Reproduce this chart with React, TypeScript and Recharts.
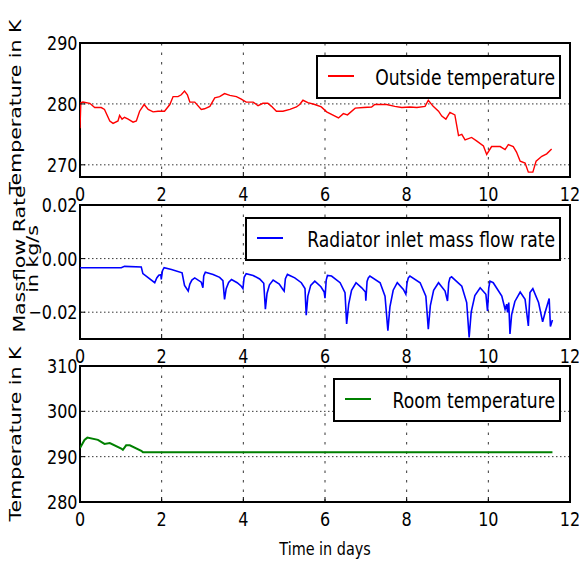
import React from 'react';
import { LineChart, Line, XAxis, YAxis, CartesianGrid, ReferenceArea, Legend, Label } from 'recharts';

const xTicks = [0, 2, 4, 6, 8, 10, 12];

const outsideDays = [0, 0.02, 0.07, 0.24, 0.36, 0.52, 0.6, 0.73, 0.81, 0.93, 0.97, 1.03, 1.09, 1.18, 1.3, 1.38, 1.46, 1.57, 1.67, 1.79, 1.91, 2.07, 2.2, 2.28, 2.4, 2.48, 2.56, 2.63, 2.69, 2.81, 2.97, 3.05, 3.18, 3.3, 3.42, 3.54, 3.67, 3.83, 3.95, 4.07, 4.24, 4.36, 4.48, 4.6, 4.69, 4.81, 4.97, 5.14, 5.3, 5.38, 5.46, 5.58, 5.75, 5.91, 6.04, 6.33, 6.45, 6.55, 6.74, 6.94, 7.14, 7.22, 7.51, 7.71, 7.88, 8.08, 8.25, 8.45, 8.53, 8.65, 8.78, 8.86, 8.96, 9.06, 9.18, 9.27, 9.35, 9.43, 9.59, 9.72, 9.88, 9.96, 10.08, 10.29, 10.41, 10.49, 10.61, 10.69, 10.78, 10.9, 10.98, 11.09, 11.17, 11.31, 11.43, 11.55];
const outsideTemp = [276.0, 280.2, 280.3, 280.1, 279.4, 279.4, 279.1, 277.2, 276.8, 277.2, 278.1, 277.5, 277.8, 277.5, 277.0, 277.2, 278.8, 279.9, 279.1, 278.7, 278.8, 278.8, 279.9, 281.2, 281.2, 281.5, 282.1, 281.5, 280.3, 280.3, 279.1, 279.2, 279.6, 281.0, 281.2, 281.7, 281.4, 281.2, 280.8, 280.3, 280.3, 279.7, 280.1, 280.1, 279.6, 278.8, 278.8, 279.1, 279.5, 279.9, 280.6, 280.2, 279.9, 279.5, 278.7, 277.7, 278.4, 278.2, 279.3, 279.4, 279.5, 279.9, 279.9, 279.6, 279.4, 279.5, 279.4, 279.6, 280.6, 279.6, 278.8, 278.0, 277.5, 278.6, 278.2, 274.8, 275.0, 274.1, 274.5, 273.9, 273.1, 271.7, 273.0, 273.0, 272.5, 273.3, 273.0, 272.1, 270.6, 270.3, 268.8, 268.8, 270.6, 271.4, 271.8, 272.6];

const flowDays = [0, 1.01, 1.09, 1.5, 1.54, 1.83, 1.88, 1.93, 1.98, 1.99, 2.02, 2.06, 2.24, 2.5, 2.56, 2.65, 2.69, 2.74, 2.81, 2.97, 3.01, 3.03, 3.07, 3.26, 3.42, 3.5, 3.54, 3.58, 3.64, 3.71, 3.85, 3.95, 3.99, 4.02, 4.07, 4.24, 4.4, 4.5, 4.54, 4.58, 4.64, 4.73, 4.88, 4.97, 5.0, 5.03, 5.08, 5.26, 5.42, 5.51, 5.54, 5.58, 5.65, 5.75, 5.9, 5.98, 6.0, 6.03, 6.06, 6.16, 6.37, 6.49, 6.53, 6.58, 6.65, 6.76, 6.9, 6.99, 7.0, 7.03, 7.06, 7.1, 7.35, 7.47, 7.54, 7.59, 7.67, 7.77, 7.92, 7.98, 8.01, 8.04, 8.08, 8.33, 8.47, 8.53, 8.58, 8.66, 8.78, 8.94, 9.0, 9.03, 9.06, 9.1, 9.35, 9.47, 9.53, 9.58, 9.67, 9.8, 9.94, 9.98, 10.01, 10.04, 10.12, 10.33, 10.41, 10.45, 10.47, 10.5, 10.53, 10.57, 10.65, 10.78, 10.9, 10.98, 11.02, 11.09, 11.23, 11.33, 11.39, 11.49, 11.52, 11.57];
const flowRate = [-0.0034, -0.0034, -0.0029, -0.0031, -0.0056, -0.009, -0.0072, -0.0062, -0.006, -0.0078, -0.0045, -0.0034, -0.0041, -0.0053, -0.01, -0.0121, -0.0095, -0.008, -0.0072, -0.0088, -0.0109, -0.0065, -0.0051, -0.0059, -0.007, -0.0082, -0.0152, -0.0112, -0.0089, -0.0078, -0.009, -0.0103, -0.0112, -0.007, -0.0056, -0.0063, -0.0076, -0.0092, -0.0189, -0.013, -0.0098, -0.008, -0.0095, -0.0115, -0.0121, -0.0075, -0.0059, -0.0072, -0.009, -0.0112, -0.0211, -0.014, -0.01, -0.0084, -0.0105, -0.0125, -0.0148, -0.008, -0.0063, -0.0065, -0.009, -0.0127, -0.0244, -0.017, -0.0118, -0.009, -0.0109, -0.0125, -0.0157, -0.0085, -0.0072, -0.0065, -0.009, -0.014, -0.0269, -0.018, -0.0118, -0.009, -0.0115, -0.0133, -0.009, -0.0072, -0.0065, -0.009, -0.014, -0.0263, -0.0175, -0.0118, -0.009, -0.0121, -0.0158, -0.009, -0.0072, -0.0068, -0.0103, -0.0164, -0.0294, -0.02, -0.0138, -0.0109, -0.0133, -0.0195, -0.011, -0.0084, -0.009, -0.014, -0.0189, -0.017, -0.0201, -0.0164, -0.0281, -0.021, -0.016, -0.0125, -0.0152, -0.0251, -0.0127, -0.0112, -0.0164, -0.0236, -0.0201, -0.0149, -0.0253, -0.0229];

const roomDays = [0, 0.11, 0.18, 0.44, 0.6, 0.73, 1.01, 1.05, 1.13, 1.22, 1.5, 1.54, 11.57];
const roomTemp = [291.9, 293.7, 294.2, 293.7, 292.8, 293.0, 291.8, 291.5, 292.5, 292.5, 291.3, 291.0, 291.0];

const outsideTicks = [270, 280, 290];
const flowTicks = [-0.02, 0, 0.02];
const roomTicks = [280, 290, 300, 310];

const outsideData = outsideDays.map((t, i) => ({ t, v: outsideTemp[i] }));
const flowData = flowDays.map((t, i) => ({ t, v: flowRate[i] }));
const roomData = roomDays.map((t, i) => ({ t, v: roomTemp[i] }));

const FONT = "'DejaVu Sans', sans-serif";
const SX = 0.8;

const fmtFlow = (v: number) => (v < 0 ? '\u2212' : '') + Math.abs(v).toFixed(2);
const fmtPlain = (v: number) => String(v);

const XTick = (props: any) => {
  const { x, y, payload } = props;
  return (
    <g transform={`translate(${x},${y})`}>
      <text transform={`scale(${SX},1)`} textAnchor="middle" dy="0.71em" fontFamily={FONT} fontSize={20} fill="#000">
        {String(payload.value)}
      </text>
    </g>
  );
};

const makeYTick = (fmt: (v: number) => string) => (props: any) => {
  const { x, y, payload } = props;
  return (
    <g transform={`translate(${x},${y})`}>
      <text transform={`scale(${SX},1)`} textAnchor="end" dy="0.355em" fontFamily={FONT} fontSize={20} fill="#000">
        {fmt(payload.value)}
      </text>
    </g>
  );
};

const makeLegend = (label: string, color: string, boxWidth: number) => () => (
  <svg width={boxWidth} height={44} style={{ display: 'block' }}>
    <rect x={1} y={1} width={boxWidth - 2} height={42} fill="#fff" stroke="#000" strokeWidth={2} />
    <line x1={12} x2={38} y1={21} y2={21} stroke={color} strokeWidth={2} />
    <text
      transform={`translate(${boxWidth - 6},22) scale(${SX},1)`}
      textAnchor="end"
      dy="0.36em"
      fontFamily={FONT}
      fontSize={21.5}
      fill="#000"
    >
      {label}
    </text>
  </svg>
);

const yLabel = (lines: string[], bx: number, cy: number) => () => (
  <text
    transform={`translate(${bx},${cy}) scale(${SX},1) rotate(-90)`}
    textAnchor="middle"
    fontFamily={FONT}
    fontSize={20.5}
    fill="#000"
  >
    {lines.map((l, i) => (
      <tspan key={i} x={0} dy={i === 0 ? '0' : '0.85em'}>
        {l}
      </tspan>
    ))}
  </text>
);

const xLabel = (text: string) => (props: any) => {
  const vb = props.viewBox || { x: 80, y: 502, width: 490, height: 63 };
  return (
    <text
      transform={`translate(${vb.x + vb.width / 2},${vb.y + vb.height - 10}) scale(${SX},1)`}
      textAnchor="middle"
      fontFamily={FONT}
      fontSize={18}
      fill="#000"
    >
      {text}
    </text>
  );
};

type PanelProps = {
  margin: { top: number; right: number; bottom: number; left: number };
  xHeight: number;
  data: { t: number; v: number }[];
  color: string;
  strokeWidth: number;
  name: string;
  domain: [number, number];
  yTicks: number[];
  yFmt: (v: number) => string;
  legendTop: number;
  legendWidth: number;
  labelLines: string[];
  labelX: number;
  labelY: number;
  xTitle?: string;
};

function Panel(p: PanelProps) {
  return (
    <div style={{ position: 'absolute', left: 0, top: 0, width: 579, height: 565 }}>
      <LineChart width={579} height={565} data={p.data} margin={p.margin}>
        <CartesianGrid vertical={false} stroke="#000" strokeWidth={0.8} strokeDasharray="1.5 2.5" />
        <CartesianGrid horizontal={false} stroke="#000" strokeWidth={0.8} strokeDasharray="2.5 7" />
        <XAxis
          dataKey="t"
          type="number"
          domain={[0, 12]}
          ticks={xTicks}
          interval={0}
          height={p.xHeight}
          axisLine={false}
          tickSize={-5}
          tickMargin={15}
          tickLine={{ stroke: '#000' }}
          tick={XTick}
          allowDataOverflow
        >
          {p.xTitle ? <Label content={xLabel(p.xTitle)} /> : null}
        </XAxis>
        <XAxis
          xAxisId="top"
          orientation="top"
          type="number"
          domain={[0, 12]}
          ticks={xTicks}
          interval={0}
          height={0}
          axisLine={false}
          tick={false}
          tickSize={-5}
          tickLine={{ stroke: '#000' }}
          allowDataOverflow
        />
        <YAxis
          type="number"
          domain={p.domain}
          ticks={p.yTicks}
          interval={0}
          width={80}
          axisLine={false}
          tickSize={-5}
          tickMargin={7.5}
          tickLine={{ stroke: '#000' }}
          tick={makeYTick(p.yFmt)}
          allowDataOverflow
        >
          <Label content={yLabel(p.labelLines, p.labelX, p.labelY)} />
        </YAxis>
        <YAxis
          yAxisId="right"
          orientation="right"
          type="number"
          domain={p.domain}
          ticks={p.yTicks}
          interval={0}
          width={0}
          axisLine={false}
          tick={false}
          tickSize={-5}
          tickLine={{ stroke: '#000' }}
          allowDataOverflow
        />
        <Line
          type="linear"
          dataKey="v"
          name={p.name}
          stroke={p.color}
          strokeWidth={p.strokeWidth}
          dot={false}
          isAnimationActive={false}
        />
        <ReferenceArea
          x1={0}
          x2={12}
          y1={p.domain[0]}
          y2={p.domain[1]}
          fill="none"
          fillOpacity={0}
          stroke="#000"
          strokeWidth={2}
          ifOverflow="visible"
        />
        <Legend
          layout="horizontal"
          verticalAlign="middle"
          align="center"
          content={makeLegend(p.name, p.color, p.legendWidth)}
          wrapperStyle={{ top: p.legendTop, right: 18, left: 'auto', bottom: 'auto', width: 'auto', height: 'auto' }}
        />
      </LineChart>
    </div>
  );
}

export default function App() {
  return (
    <div style={{ position: 'absolute', left: 0, top: 0, width: 579, height: 565, background: '#fff' }}>
      <Panel
        margin={{ top: 43, right: 9, bottom: 368, left: 0 }}
        xHeight={20}
        data={outsideData}
        color="#ff0000"
        strokeWidth={1.4}
        name="Outside temperature"
        domain={[268, 290]}
        yTicks={outsideTicks}
        yFmt={fmtPlain}
        legendTop={55}
        legendWidth={245}
        labelLines={['Temperature in K']}
        labelX={21}
        labelY={107}
      />
      <Panel
        margin={{ top: 205, right: 9, bottom: 206, left: 0 }}
        xHeight={20}
        data={flowData}
        color="#0000ff"
        strokeWidth={1.6}
        name="Radiator inlet mass flow rate"
        domain={[-0.03, 0.02]}
        yTicks={flowTicks}
        yFmt={fmtFlow}
        legendTop={217}
        legendWidth={316}
        labelLines={['Massflow Rate', 'in kg/s']}
        labelX={24.5}
        labelY={259}
      />
      <Panel
        margin={{ top: 366, right: 9, bottom: 0, left: 0 }}
        xHeight={63}
        data={roomData}
        color="#008000"
        strokeWidth={2}
        name="Room temperature"
        domain={[280, 310]}
        yTicks={roomTicks}
        yFmt={fmtPlain}
        legendTop={378}
        legendWidth={228}
        labelLines={['Temperature in K']}
        labelX={21}
        labelY={434}
        xTitle="Time in days"
      />
    </div>
  );
}
